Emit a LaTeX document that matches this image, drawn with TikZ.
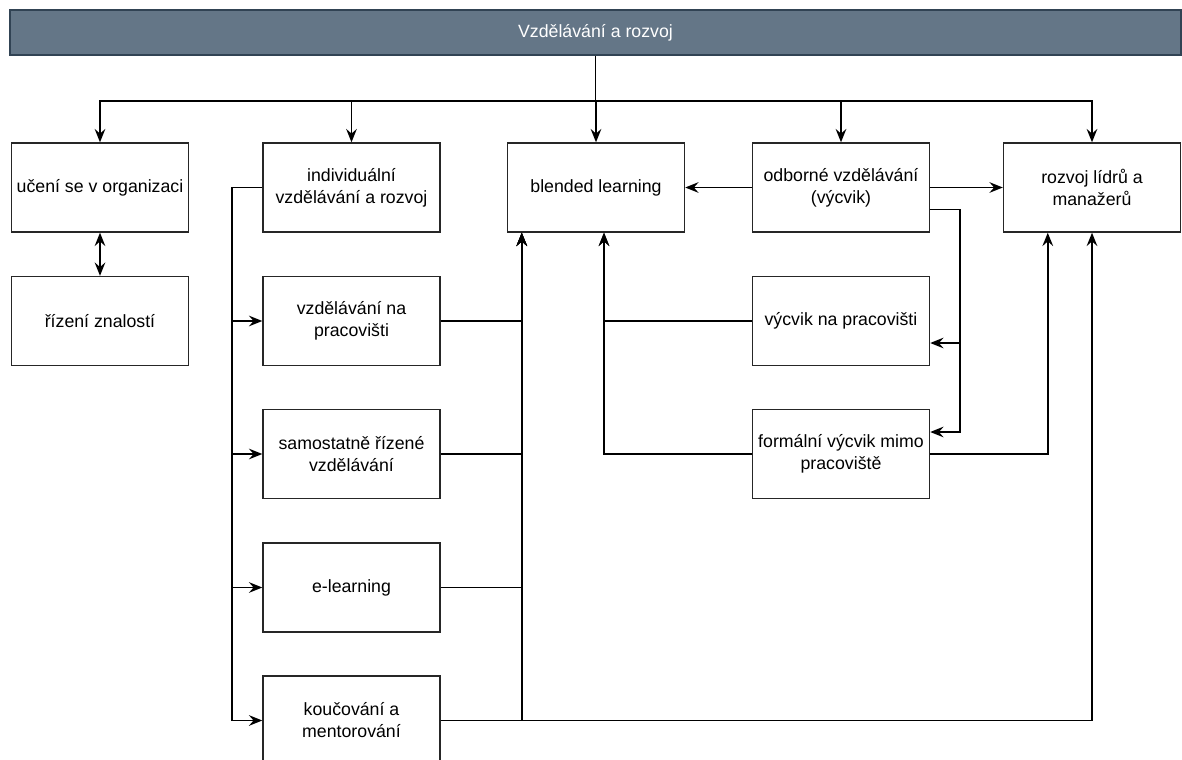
\documentclass[tikz,border=0pt]{standalone}
\usepackage{fontspec}
\setmainfont{Liberation Sans}
\usetikzlibrary{arrows.meta,calc}
\definecolor{barfill}{HTML}{647687}
\definecolor{barline}{HTML}{314354}

\begin{document}
\begin{tikzpicture}[x=.75pt,y=-.75pt,line width=1.3pt,>={Stealth[length=10pt,width=8pt,inset=3.5pt]},
box/.style={draw=black!85,line width=1.1pt,minimum width=132.75pt,minimum height=66.75pt,inner sep=0pt,align=center,font=\fontsize{13.3}{16.5}\selectfont},
bar/.style={draw=barline,fill=barfill,text=white,line width=1pt,minimum width=878.25pt,minimum height=33.75pt,inner sep=0pt,font=\fontsize{13.3}{16.5}\selectfont}]
\useasboundingbox(0,0)rectangle(1182,760);
\node[bar](top)at(595.5,32.5){Vzdělávání a rozvoj};
\node[box](uso)at(100,187.5){učení se v organizaci};\node[box](rz)at(100,321){řízení znalostí};
\node[box](ivr)at(351.5,187.5){individuální\\vzdělávání a rozvoj};\node[box](vnp)at(351.5,321){vzdělávání na\\pracovišti};
\node[box](srv)at(351.5,454){samostatně řízené\\vzdělávání};\node[box](el)at(351.5,587.5){e-learning};\node[box](kam)at(351.5,720.5){koučování a\\mentorování};
\node[box](bl)at(596,187.5){blended learning};
\node[box](ov)at(841,187.5){odborné vzdělávání\\(výcvik)};\node[box](vyp)at(841,321){výcvik na pracovišti};\node[box](fvm)at(841,454){formální výcvik mimo\\pracoviště};
\node[box](rlm)at(1092,187.5){rozvoj lídrů a\\manažerů};
\coordinate(hub)at($(top.south)+(0,45)$);
\draw[->](top.south)--(hub)-|(uso.north);\draw[->](hub)-|(ivr.north);\draw[->](hub)-|(bl.north);\draw[->](hub)-|(ov.north);\draw[->](hub)-|(rlm.north);
\draw[<->](uso)--(rz);
\coordinate(ivl)at($(ivr.west)+(-30,0)$);
\draw[->](ivr.west)--(ivl)|-(vnp.west);\draw[->](ivl)|-(srv.west);\draw[->](ivl)|-(el.west);\draw[->](ivl)|-(kam.west);
\coordinate(bla)at($(bl.south west)+(15,0)$);\coordinate(blb)at($(bl.south)+(8,0)$);
\draw[->](vnp.east)-|(bla);\draw[->](srv.east)-|(bla);\draw[->](el.east)-|(bla);\draw[->](kam.east)-|(bla);
\draw[->](kam.east)-|(rlm.south);
\draw[->](ov.west)--(bl.east);\draw[->](ov.east)--(rlm.west);
\coordinate(ovr)at($(ov.east)+(30,22)$);
\draw[->]($(ov.east)+(0,22)$)--(ovr)|-($(vyp.east)+(0,22)$);\draw[->](ovr)|-($(fvm.east)+(0,-22)$);
\draw[->](vyp.west)-|(blb);\draw[->](fvm.west)-|(blb);
\draw[->](fvm.east)-|($(rlm.south west)+(45,0)$);
\end{tikzpicture}
\end{document}
